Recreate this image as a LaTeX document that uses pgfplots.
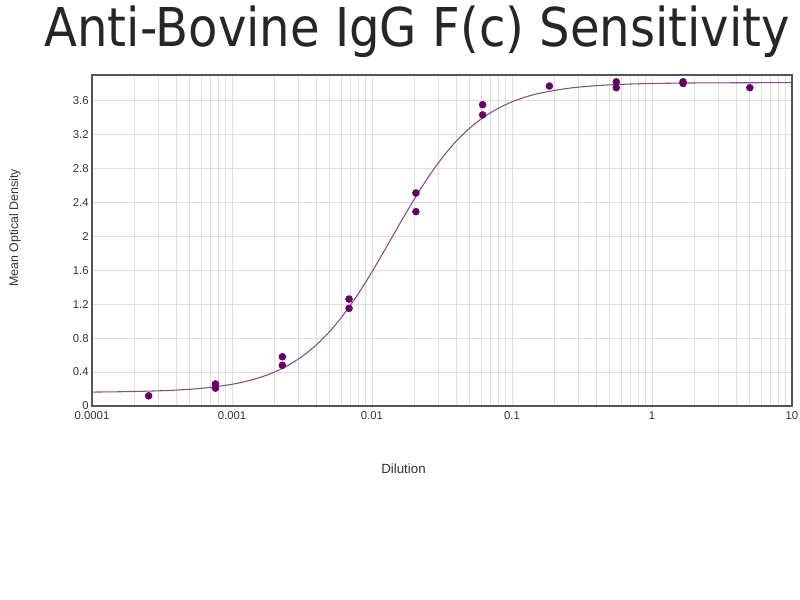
\documentclass[border=0pt]{standalone}
\usepackage{pgfplots}
\pgfplotsset{compat=1.18}
\usepackage{fontspec}
\setmainfont{Liberation Sans}
\newfontfamily\titlefont{DejaVu Sans Condensed}
\definecolor{pt}{RGB}{102,0,102}
\definecolor{cv}{RGB}{130,80,130}
\definecolor{gr}{RGB}{222,222,222}
\definecolor{bx}{RGB}{85,85,85}
\begin{document}
\begin{tikzpicture}
\path[use as bounding box, fill=white] (0,0) rectangle (600pt,450pt);
\node[anchor=base, text=black!85, inner sep=0pt] at (313pt,414.75pt) {\resizebox{559pt}{30.5pt}{\titlefont Anti-Bovine IgG F(c) Sensitivity}};
\begin{axis}[
  at={(69pt,145.5pt)}, anchor=south west,
  scale only axis, width=525pt, height=248.25pt,
  xmode=log, xmin=0.0001, xmax=10, ymin=0, ymax=3.9,
  log basis x=10,
  xtick={0.0001,0.001,0.01,0.1,1,10},
  xticklabels={0.0001,0.001,0.01,0.1,1,10},
  minor xtick={0.0002,0.0003,0.0004,0.0005,0.0006,0.0007,0.0008,0.0009,
    0.002,0.003,0.004,0.005,0.006,0.007,0.008,0.009,
    0.02,0.03,0.04,0.05,0.06,0.07,0.08,0.09,
    0.2,0.3,0.4,0.5,0.6,0.7,0.8,0.9,
    2,3,4,5,6,7,8,9},
  ytick={0,0.4,...,3.61},
  yticklabels={0,0.4,0.8,1.2,1.6,2,2.4,2.8,3.2,3.6},
  grid=both,
  major grid style={gr, line width=0.6pt},
  minor grid style={gr, line width=0.6pt},
  axis line style={bx, line width=1.2pt},
  tick style={draw=none},
  ticklabel style={font=\fontsize{8.5}{10}\selectfont, text=black!80},
  xticklabel style={yshift=-1pt},
  yticklabel style={xshift=1pt},
  xlabel={Dilution}, ylabel={Mean Optical Density},
  xlabel style={font=\fontsize{10}{12}\selectfont, text=black!80, at={(axis description cs:0.445,-0.189)}, anchor=center},
  ylabel style={font=\fontsize{9.3}{11}\selectfont, text=black!80, at={(axis description cs:-0.11,0.538)}, anchor=center},
  clip=true,
]
\addplot[cv, line width=0.8pt, no marks, smooth] coordinates {
(0.0001,0.164) (0.0001585,0.168) (0.0002512,0.175) (0.0003981,0.187)
(0.000631,0.211) (0.001,0.256) (0.001259,0.290) (0.001585,0.336)
(0.001995,0.397) (0.002512,0.478) (0.003162,0.583) (0.003981,0.716)
(0.005012,0.882) (0.00631,1.083) (0.007943,1.318) (0.01,1.581)
(0.01259,1.864) (0.01585,2.152) (0.01995,2.432) (0.02512,2.692)
(0.03162,2.921) (0.03981,3.117) (0.05012,3.277) (0.0631,3.406)
(0.07943,3.506) (0.1,3.584) (0.1259,3.642) (0.1585,3.686)
(0.2512,3.743) (0.3981,3.774) (0.631,3.791) (1,3.800)
(1.995,3.806) (3.981,3.8085) (10,3.8096)
};
\addplot[only marks, mark=*, mark size=2.6pt, pt, mark options={draw=pt, fill=pt}] coordinates {
(0.000254,0.12)
(0.000762,0.26) (0.000762,0.21)
(0.00229,0.58) (0.00229,0.48)
(0.00686,1.26) (0.00686,1.15)
(0.0206,2.51) (0.0206,2.29)
(0.0617,3.55) (0.0617,3.43)
(0.185,3.77)
(0.556,3.82) (0.556,3.75)
(1.667,3.82) (1.667,3.80)
(5,3.75)
};
\end{axis}
\end{tikzpicture}
\end{document}
